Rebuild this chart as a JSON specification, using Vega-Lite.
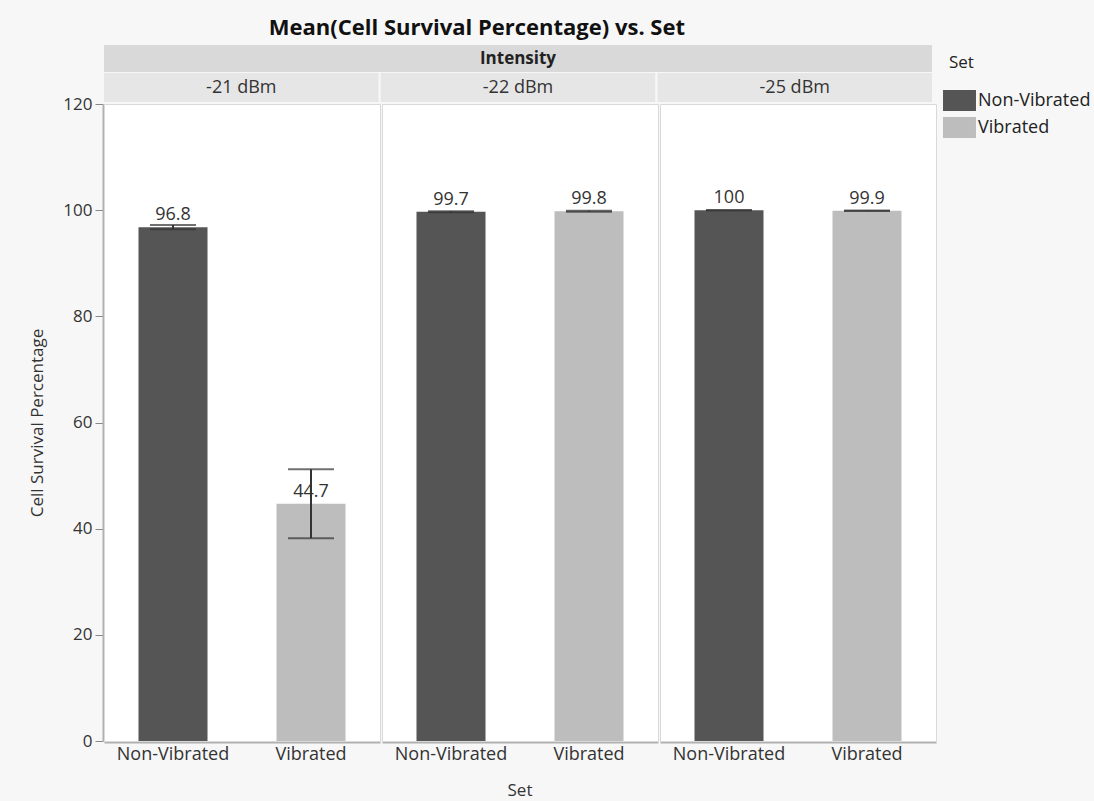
{
  "$schema": "https://vega.github.io/schema/vega-lite/v6.json",
  "background": "#f7f7f7",
  "padding": {"left": 28, "top": 17, "right": 5, "bottom": 2},
  "title": {"text": "Mean(Cell Survival Percentage) vs. Set", "fontSize": 22, "font": "Open Sans", "fontWeight": "bold", "color": "#111111", "anchor": "middle", "offset": 8, "dx": -83, "dy": 3},
  "config": {
    "font": "Open Sans",
    "view": {"stroke": "#d9d9d9", "fill": "#ffffff"},
    "axis": {"labelFont": "Open Sans", "titleFont": "Open Sans", "labelColor": "#333333", "titleColor": "#333333", "grid": false}
  },
  "datasets": {
    "survival": [
      {"Intensity": "-21 dBm", "Set": "Non-Vibrated", "Mean": 96.8, "Lower": 96.4, "Upper": 97.2},
      {"Intensity": "-21 dBm", "Set": "Vibrated", "Mean": 44.7, "Lower": 38.2, "Upper": 51.2},
      {"Intensity": "-22 dBm", "Set": "Non-Vibrated", "Mean": 99.7, "Lower": 99.6, "Upper": 99.8},
      {"Intensity": "-22 dBm", "Set": "Vibrated", "Mean": 99.8, "Lower": 99.7, "Upper": 99.9},
      {"Intensity": "-25 dBm", "Set": "Non-Vibrated", "Mean": 100, "Lower": 99.95, "Upper": 100.05},
      {"Intensity": "-25 dBm", "Set": "Vibrated", "Mean": 99.9, "Lower": 99.85, "Upper": 99.95}
    ],
    "headers": [
      {"Intensity": "-21 dBm"},
      {"Intensity": "-22 dBm"},
      {"Intensity": "-25 dBm"}
    ]
  },
  "spacing": -7,
  "vconcat": [
    {
      "spacing": 1,
      "vconcat": [
        {
          "width": 828,
          "height": 27,
          "view": {"fill": "#d9d9d9", "stroke": null},
          "data": {"values": [{"Header": "Intensity"}]},
          "mark": {"type": "text", "fontSize": 17, "fontWeight": "bold", "color": "#222222"},
          "encoding": {"text": {"field": "Header", "type": "nominal"}}
        },
        {
          "width": 828,
          "height": 29,
          "view": {"fill": null, "stroke": null},
          "data": {"name": "headers"},
          "encoding": {
            "x": {"field": "Intensity", "type": "nominal", "sort": ["-21 dBm", "-22 dBm", "-25 dBm"], "scale": {"paddingInner": 0.008, "paddingOuter": 0}, "axis": null}
          },
          "layer": [
            {"mark": {"type": "bar", "color": "#e6e6e6"}},
            {"mark": {"type": "text", "fontSize": 18, "color": "#333333"}, "encoding": {"text": {"field": "Intensity", "type": "nominal"}}}
          ]
        }
      ]
    },
    {
      "data": {"name": "survival"},
      "spacing": 0,
      "facet": {
        "column": {
          "field": "Intensity", "type": "nominal", "sort": ["-21 dBm", "-22 dBm", "-25 dBm"],
          "header": {"labels": false, "title": "Set", "titleOrient": "bottom", "titleFontSize": 17, "titleFontWeight": "normal", "titleColor": "#333333", "titlePadding": 10, "titleFont": "Open Sans"}
        }
      },
      "spec": {
        "width": 276,
        "height": 637,
        "encoding": {
          "x": {"field": "Set", "type": "nominal", "sort": ["Non-Vibrated", "Vibrated"], "scale": {"paddingInner": 0.5, "paddingOuter": 0.25},
                "axis": {"title": null, "labelAngle": 0, "labelFontSize": 18, "ticks": false, "labelPadding": 3, "domainColor": "#b0b0b0", "domainWidth": 2}}
        },
        "layer": [
          {
            "mark": {"type": "bar"},
            "encoding": {
              "y": {"field": "Mean", "type": "quantitative", "scale": {"domain": [0, 120]},
                    "axis": {"title": "Cell Survival Percentage", "titleFontSize": 17, "titleFontWeight": "normal", "labelFontSize": 17, "values": [0, 20, 40, 60, 80, 100, 120], "labelOverlap": false, "tickSize": 8, "tickColor": "#888888", "labelPadding": 3, "titlePadding": 16, "domainColor": "#b0b0b0", "domainWidth": 2}},
              "color": {"field": "Set", "type": "nominal", "sort": ["Non-Vibrated", "Vibrated"],
                        "scale": {"domain": ["Non-Vibrated", "Vibrated"], "range": ["#555555", "#bdbdbd"]},
                        "legend": {"title": "Set", "orient": "none", "legendX": 845, "legendY": 10, "titleFontSize": 17, "titleFontWeight": "normal", "titleColor": "#222222", "labelFontSize": 18, "labelColor": "#222222", "symbolType": "M-1.57,-1L1.57,-1L1.57,1L-1.57,1Z", "symbolSize": 441, "symbolStrokeWidth": 0, "symbolOpacity": 1, "rowPadding": 6, "labelOffset": 8, "titlePadding": 18}}
            }
          },
          {
            "mark": {"type": "rule", "color": "#333333", "strokeWidth": 2},
            "encoding": {"y": {"field": "Lower", "type": "quantitative"}, "y2": {"field": "Upper"}}
          },
          {
            "mark": {"type": "tick", "orient": "horizontal", "size": 46, "thickness": 2, "color": "#333333"},
            "encoding": {"y": {"field": "Lower", "type": "quantitative"}}
          },
          {
            "mark": {"type": "tick", "orient": "horizontal", "size": 46, "thickness": 2, "color": "#333333"},
            "encoding": {"y": {"field": "Upper", "type": "quantitative"}}
          },
          {
            "mark": {"type": "text", "baseline": "bottom", "dy": -3, "fontSize": 18, "color": "#333333"},
            "encoding": {"y": {"field": "Mean", "type": "quantitative"}, "text": {"field": "Mean", "type": "quantitative", "format": ".1~f"}}
          }
        ]
      }
    }
  ]
}
